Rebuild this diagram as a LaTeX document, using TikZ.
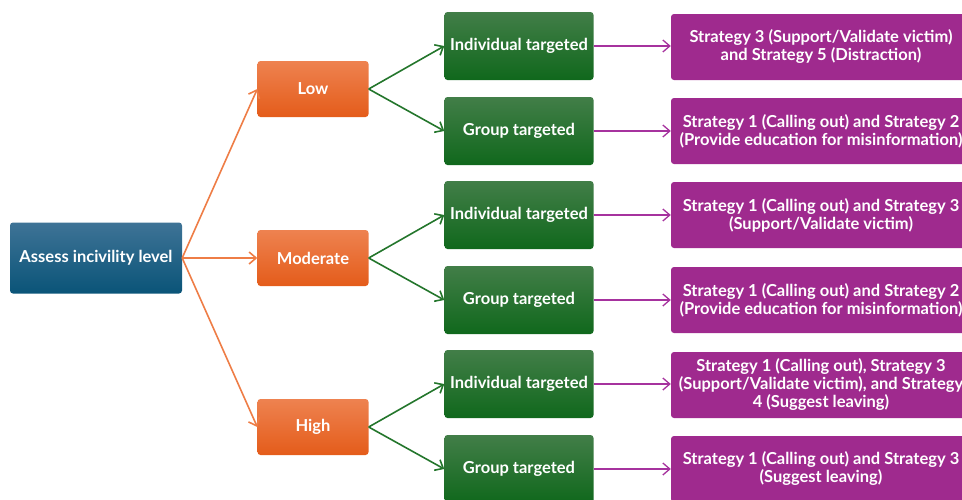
\documentclass[tikz,border=0pt]{standalone}
\usepackage{fontspec}
\setmainfont{Lato}
\usetikzlibrary{arrows.meta}
\definecolor{BlueTop}{RGB}{62,115,150}
\definecolor{BlueBot}{RGB}{10,84,120}
\definecolor{OrangeTop}{RGB}{238,130,80}
\definecolor{OrangeBot}{RGB}{228,92,26}
\definecolor{GreenTop}{RGB}{66,126,72}
\definecolor{GreenBot}{RGB}{16,104,28}
\definecolor{Purple}{RGB}{159,42,142}
\definecolor{OrangeLine}{RGB}{238,125,70}
\definecolor{GreenLine}{RGB}{36,118,44}
\definecolor{PurpleLine}{RGB}{166,50,158}
\tikzset{
  box/.style={rounded corners=3pt, text=white, align=center, inner sep=2pt,
    font=\bfseries\fontsize{16.5}{18}\selectfont},
  assessbox/.style={box, top color=BlueTop, bottom color=BlueBot, minimum width=172pt, minimum height=71pt},
  levelbox/.style={box, top color=OrangeTop, bottom color=OrangeBot, minimum width=111pt, minimum height=56pt},
  targetbox/.style={box, top color=GreenTop, bottom color=GreenBot, minimum width=149pt, minimum height=68pt},
  strategybox/.style={box, fill=Purple, minimum width=300pt, minimum height=66pt},
  tip/.style={-{Straight Barb[length=7pt, width=12pt]}, line width=1.6pt},
}

\begin{document}
\begin{tikzpicture}[x=1pt, y=-1pt]
  \useasboundingbox (0,0) rectangle (962,499);
  \clip (0,0) rectangle (962,499);

  \node[assessbox] (assess) at (96,258) {Assess incivility level};

  \node[levelbox] (low) at (313,89) {Low};
  \node[levelbox] (moderate) at (313,258) {Moderate};
  \node[levelbox] (high) at (313,427) {High};

  \node[targetbox] (ind1) at (519,46) {Individual targeted};
  \node[targetbox] (grp1) at (519,131) {Group targeted};
  \node[targetbox] (ind2) at (519,215) {Individual targeted};
  \node[targetbox] (grp2) at (519,300) {Group targeted};
  \node[targetbox] (ind3) at (519,384) {Individual targeted};
  \node[targetbox] (grp3) at (519,469) {Group targeted};

  \node[strategybox] (str1) at (821,47) {Strategy 3 (Support/Validate victim)\\and Strategy 5 (Distraction)};
  \node[strategybox] (str2) at (821,131) {Strategy 1 (Calling out) and Strategy 2\\(Provide education for misinformation)};
  \node[strategybox] (str3) at (821,215) {Strategy 1 (Calling out) and Strategy 3\\(Support/Validate victim)};
  \node[strategybox] (str4) at (821,300) {Strategy 1 (Calling out) and Strategy 2\\(Provide education for misinformation)};
  \node[strategybox] (str5) at (821,385) {Strategy 1 (Calling out), Strategy 3\\(Support/Validate victim), and Strategy\\4 (Suggest leaving)};
  \node[strategybox] (str6) at (821,469) {Strategy 1 (Calling out) and Strategy 3\\(Suggest leaving)};

  % level arrows
  \foreach \lvl in {low,moderate,high}
    \draw[tip, OrangeLine] (assess.east) -- (\lvl.west);

  % target arrows
  \draw[tip, GreenLine] (low.east) -- (ind1.west);
  \draw[tip, GreenLine] (low.east) -- (grp1.west);
  \draw[tip, GreenLine] (moderate.east) -- (ind2.west);
  \draw[tip, GreenLine] (moderate.east) -- (grp2.west);
  \draw[tip, GreenLine] (high.east) -- (ind3.west);
  \draw[tip, GreenLine] (high.east) -- (grp3.west);

  % strategy arrows
  \foreach \t/\s in {ind1/str1,grp1/str2,ind2/str3,grp2/str4,ind3/str5,grp3/str6}
    \draw[tip, PurpleLine, line width=1.3pt] (\t.east) -- (\t.east -| \s.west);
\end{tikzpicture}
\end{document}
